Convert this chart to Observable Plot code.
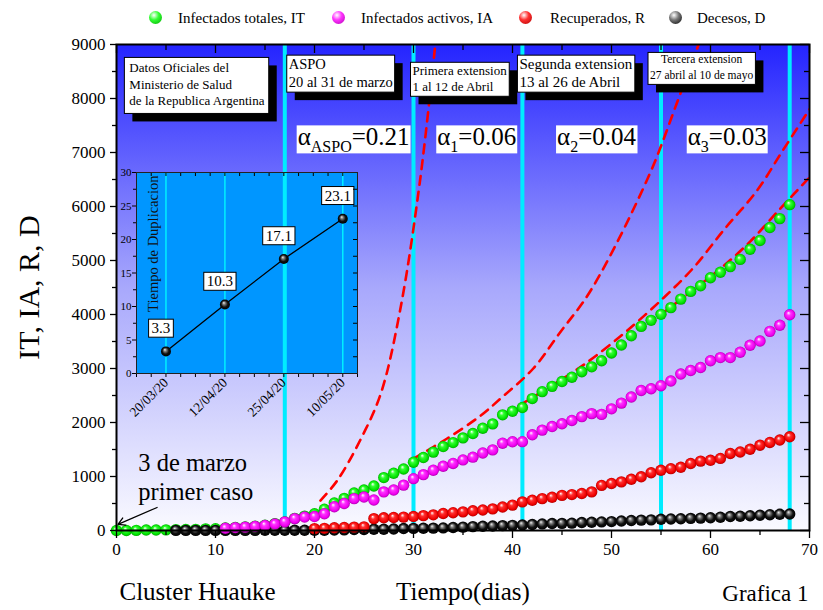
<!DOCTYPE html>
<html><head><meta charset="utf-8">
<script src="https://cdn.jsdelivr.net/npm/d3@7"></script>
<script src="https://cdn.jsdelivr.net/npm/@observablehq/plot@0.6"></script>
<style>
body{margin:0;background:#fff;font-family:"Liberation Serif",serif;}
#legend{position:relative;width:823px;height:36px;}
.lt{position:absolute;top:9px;font-size:15px;line-height:18px;white-space:nowrap;color:#000;}
.lb{position:absolute;top:11px;width:13px;height:13px;border-radius:50%;}
#chart{width:823px;height:574px;}
</style></head><body>
<svg width="0" height="0" style="position:absolute">
<defs>
<linearGradient id="bgGrad" x1="0" y1="0" x2="0" y2="1">
<stop offset="0" stop-color="rgb(36,36,255)"/>
<stop offset="0.5" stop-color="rgb(168,168,252)"/>
<stop offset="1" stop-color="rgb(250,250,255)"/>
</linearGradient>
<radialGradient id="ballGreen" cx="0.5" cy="0.5" r="0.5" fx="0.38" fy="0.32"><stop offset="0" stop-color="#ffffff"/><stop offset="0.35" stop-color="#33ff33"/><stop offset="0.8" stop-color="#00e000"/><stop offset="1" stop-color="#00a800"/></radialGradient>
<radialGradient id="ballMagenta" cx="0.5" cy="0.5" r="0.5" fx="0.38" fy="0.32"><stop offset="0" stop-color="#ffffff"/><stop offset="0.35" stop-color="#ff33ff"/><stop offset="0.8" stop-color="#ee00ee"/><stop offset="1" stop-color="#b000b0"/></radialGradient>
<radialGradient id="ballRed" cx="0.5" cy="0.5" r="0.5" fx="0.38" fy="0.32"><stop offset="0" stop-color="#ffffff"/><stop offset="0.35" stop-color="#ff3030"/><stop offset="0.8" stop-color="#ee0000"/><stop offset="1" stop-color="#b00000"/></radialGradient>
<radialGradient id="ballBlack" cx="0.5" cy="0.5" r="0.5" fx="0.38" fy="0.32"><stop offset="0" stop-color="#f0f0f0"/><stop offset="0.3" stop-color="#777777"/><stop offset="0.65" stop-color="#111111"/><stop offset="1" stop-color="#000000"/></radialGradient>
</defs></svg>
<div id="legend"></div>
<div id="chart"></div>
<script>
// ---------------- data ----------------
const seriesNames = ["Infectados totales, IT", "Infectados activos, IA", "Recuperados, R", "Decesos, D"];
const itStart = 0;
const itValues = [1,1,2,8,9,12,17,19,21,31,34,45,56,65,79,97,128,158,225,266,310,395,510,595,695,750,825,980,1060,1140,1265,1353,1451,1554,1628,1715,1795,1894,1975,2142,2208,2277,2443,2571,2669,2758,2839,2941,3031,3144,3288,3435,3607,3780,3892,4003,4127,4285,4428,4532,4681,4783,4887,5020,5208,5371,5611,5776,6034];
const iaStart = 11;
const iaValues = [43,54,63,77,94,120,160,220,250,258,310,440,500,590,620,565,715,750,840,960,1035,1117,1191,1242,1307,1358,1435,1493,1617,1643,1645,1772,1859,1925,1976,2038,2109,2164,2150,2253,2359,2472,2593,2625,2681,2768,2897,2963,3018,3144,3202,3202,3301,3430,3509,3688,3801,3994];
const rStart = 20;
const rValues = [35,40,50,55,62,68,220,235,240,248,258,275,290,315,330,345,365,380,400,435,470,530,560,590,615,650,665,685,715,835,870,900,950,995,1070,1115,1145,1170,1240,1285,1300,1335,1425,1455,1505,1580,1630,1675,1735];
const dStart = 6;
const dValues = [2,2,2,2,2,2,2,2,2,3,3,3,4,4,4,6,8,12,17,19,23,24,27,36,39,43,44,48,56,63,72,79,82,90,95,102,111,122,129,132,136,147,152,159,165,176,185,192,197,207,214,218,225,229,237,246,260,264,273,282,293,300,305];

// exponential fits: [day, value]
const fitASPO = [[20.6,555],[22.3,926],[24.6,1667],[26.7,2537],[28.7,4130],[30.7,6537],[32.2,9000]];
const fit1 = [[30,1330],[33.4,1704],[36.8,2130],[38.8,2444],[42.1,3000],[44.8,3667],[47.9,4444],[53.7,6537],[56.7,7963],[58.8,9000]];
const fit2 = [[41,2350],[45.9,2907],[48.2,3204],[51.6,3704],[55.3,4315],[58.3,4870],[61.3,5556],[64.7,6296],[67.3,7037],[70,7800]];
const fit3 = [[55,4000],[58,4420],[61,4850],[64,5350],[67,5950],[70,6540]];

const phaseDays = [17, 30, 41, 55, 68];
const xTicks = [0,10,20,30,40,50,60,70];
const yTicks = [0,1000,2000,3000,4000,5000,6000,7000,8000,9000];

const noteTexts = ["Datos Oficiales del\nMinisterio de Salud\nde la Republica Argentina", "ASPO\n20 al 31 de marzo", "Primera extension\n1 al 12 de Abril", "Segunda extension\n13 al 26 de Abril", "Tercera extension\n27 abril al 10 de mayo"];
const notePos = [[1.3,8700],[17.4,8780],[29.9,8640],[40.7,8780],[59.1,8860]];
const noteFont = [13, 14.5, 13, 15, 11.5];
const noteLine = [1.27, 1.24, 1.23, 1.2, 1.39];
const noteAnchor = ["start","start","start","start","middle"];

const alphaSub = ["ASPO","1","2","3"];
const alphaVal = ["0.21","0.06","0.04","0.03"];
const alphaPos = [[18.3,7280],[32.4,7280],[44.5,7280],[57.7,7280]];

const firstCaseText = "3 de marzo\nprimer caso";

const dupDates = ["20/03/20","12/04/20","25/04/20","10/05/20"];
const dupValues = [3.3, 10.3, 17.1, 23.1];

// ---------------- legend ----------------
const legendColors = [["#33ff33","#00a800"],["#ff33ff","#b000b0"],["#ff3030","#b00000"],["#777","#000"]];
const legendBallX = [155, 338, 525, 675];
const legendTextX = [178, 361, 550, 697];
const leg = document.getElementById("legend");
seriesNames.forEach((name, i) => {
  const b = document.createElement("div");
  b.className = "lb";
  b.style.left = (legendBallX[i] - 6.5) + "px";
  b.style.background = `radial-gradient(circle at 38% 32%, #fff 0%, ${legendColors[i][0]} 40%, ${legendColors[i][1]} 100%)`;
  leg.appendChild(b);
  const t = document.createElement("div");
  t.className = "lt";
  t.style.left = legendTextX[i] + "px";
  t.textContent = name;
  leg.appendChild(t);
});

// ---------------- main chart ----------------
const W = 823, H = 574, mL = 116, mR = 14, mT = 8, mB = 80;
const plotW = W - mL - mR, plotH = H - mT - mB;
const toRows = (start, vals) => vals.map((v, i) => ({day: start + i, v}));
const itData = toRows(itStart, itValues);
const iaData = toRows(iaStart, iaValues);
const rData = toRows(rStart, rValues);
const dData = toRows(dStart, dValues);
const serif = '"Liberation Serif", "Times New Roman", serif';
const dash = {x: d => d[0], y: d => d[1], curve: "catmull-rom", stroke: "#ff0000", strokeWidth: 2.6, strokeDasharray: "9,7", clip: true};
const R = 5.7;
const plain = d => String(d);

const main = Plot.plot({
  width: W, height: H, marginLeft: mL, marginRight: mR, marginTop: mT, marginBottom: mB,
  style: {fontFamily: serif, fontSize: "17px", background: "transparent", color: "black", overflow: "visible"},
  x: {domain: [0, 70]},
  y: {domain: [0, 9000]},
  marks: [
    Plot.frame({fill: "url(#bgGrad)"}),
    Plot.ruleX(phaseDays, {stroke: "#00ecff", strokeWidth: 4, ariaDescription: "phase-rules"}),
    Plot.line(fitASPO, dash),
    Plot.line(fit1, dash),
    Plot.line(fit2, dash),
    Plot.line(fit3, dash),
    Plot.dot(itData, {x: "day", y: "v", r: R, fill: "url(#ballGreen)"}),
    Plot.dot(dData, {x: "day", y: "v", r: R, fill: "url(#ballBlack)"}),
    Plot.dot(iaData, {x: "day", y: "v", r: R, fill: "url(#ballMagenta)"}),
    Plot.dot(rData, {x: "day", y: "v", r: R, fill: "url(#ballRed)"}),
    Plot.arrow([{x1: 4.1, y1: 426, x2: 0.15, y2: 115}], {x1: "x1", y1: "y1", x2: "x2", y2: "y2", stroke: "black", strokeWidth: 1.3, headLength: 9}),
    Plot.text([firstCaseText], {x: () => 2.2, y: () => 1490, text: d => d, textAnchor: "start", lineAnchor: "top", fontSize: 24.5, lineHeight: 1.2, fill: "black"}),
    ...noteTexts.map((t, i) => Plot.text([t], {x: () => notePos[i][0], y: () => notePos[i][1], text: d => d, textAnchor: noteAnchor[i], lineAnchor: "top", fontSize: noteFont[i], lineHeight: noteLine[i], fill: "black", ariaDescription: "note"})),
    Plot.text(alphaSub, {x: (d, i) => alphaPos[i][0], y: (d, i) => alphaPos[i][1], text: (d, i) => `α${d}=${alphaVal[i]}`, textAnchor: "start", fontSize: 25, fill: "black", ariaDescription: "alpha"}),
    Plot.axisX(xTicks, {tickSize: 8, tickPadding: 4, fontSize: 17, tickFormat: plain, label: null, strokeWidth: 1.3}),
    Plot.axisX(d3.range(5, 70, 10), {tickSize: 5, tickFormat: () => "", label: null, strokeWidth: 1.3}),
    Plot.axisY(yTicks, {tickSize: 6, tickPadding: 5, fontSize: 17, tickFormat: plain, label: null, strokeWidth: 1.3}),
    Plot.axisY(d3.range(500, 9000, 1000), {tickSize: 4, tickFormat: () => "", label: null, strokeWidth: 1.3}),
    Plot.tickX(xTicks, {x: d => d, insetBottom: plotH - 9, stroke: "black", strokeWidth: 1.3}),
    Plot.tickX(d3.range(5, 70, 10), {x: d => d, insetBottom: plotH - 6, stroke: "black", strokeWidth: 1.3}),
    Plot.tickY(yTicks, {y: d => d, insetLeft: plotW - 9, stroke: "black", strokeWidth: 1.3}),
    Plot.tickY(d3.range(500, 9000, 1000), {y: d => d, insetLeft: plotW - 5, stroke: "black", strokeWidth: 1.3}),
    Plot.frame({stroke: "black", strokeWidth: 2}),
    Plot.text(["IT, IA, R, D"], {frameAnchor: "left", textAnchor: "middle", rotate: -90, dx: -87, fontSize: 30, fill: "black"}),
    Plot.text(["Cluster Huauke"], {frameAnchor: "bottom-left", textAnchor: "start", lineAnchor: "top", dx: 3, dy: 52, fontSize: 25, fill: "black"}),
    Plot.text(["Tiempo(dias)"], {frameAnchor: "bottom", lineAnchor: "top", dy: 52, fontSize: 25, fill: "black"}),
    Plot.text(["Grafica 1"], {frameAnchor: "bottom-right", textAnchor: "end", lineAnchor: "top", dx: -1, dy: 54, fontSize: 23, fill: "black"})
  ]
});
document.getElementById("chart").appendChild(main);

// ---------------- inset chart ----------------
const iW = 261, iH = 261, iL = 30, iR = 10, iT = 10, iB = 50;
const iPlotW = iW - iL - iR, iPlotH = iH - iT - iB;
const dupData = dupValues.map((v, i) => ({i, v}));
const quarters = d3.range(-0.5, 3.26, 0.25).filter(v => Math.abs(v - Math.round(v)) > 1e-6);
const inset = Plot.plot({
  width: iW, height: iH, marginLeft: iL, marginRight: iR, marginTop: iT, marginBottom: iB,
  style: {fontFamily: serif, fontSize: "11px", background: "transparent", color: "black"},
  x: {domain: [-0.5, 3.25]},
  y: {domain: [0, 30]},
  marks: [
    Plot.frame({fill: "#0096ff"}),
    Plot.ruleX([0, 1, 2, 3], {stroke: "#00f0ff", strokeWidth: 1.5}),
    Plot.line(dupData, {x: "i", y: "v", stroke: "black", strokeWidth: 1.3, ariaDescription: "inset-split"}),
    Plot.dot(dupData, {x: "i", y: "v", r: 5, fill: "url(#ballBlack)"}),
    Plot.text(dupData, {x: "i", y: "v", text: d => d.v.toFixed(1), dx: -5, dy: -23, fontSize: 15, fill: "black", ariaDescription: "duplabel"}),
    Plot.text(["Tiempo de Duplicacion"], {frameAnchor: "top-left", rotate: -90, textAnchor: "end", dx: 11, dy: 3, fontSize: 14.5, fill: "#111"}),
    Plot.axisX([0, 1, 2, 3], {tickFormat: i => dupDates[i], tickRotate: -45, tickSize: 4, tickPadding: 3, fontSize: 13.5, label: null}),
    Plot.axisX(quarters, {tickFormat: () => "", tickSize: 4, label: null}),
    Plot.axisY(d3.range(0, 31, 5), {tickSize: 4, tickPadding: 1, fontSize: 11, label: null}),
    Plot.axisY(d3.range(2.5, 30, 5), {tickSize: 3, tickFormat: () => "", label: null}),
    Plot.tickX(quarters.concat([0, 1, 2, 3]), {x: d => d, insetBottom: iPlotH - 4, stroke: "black"}),
    Plot.tickY(d3.range(0, 30.1, 2.5), {y: d => d, insetLeft: iPlotW - 4, stroke: "black"}),
    Plot.frame({stroke: "#222", strokeWidth: 1})
  ]
});

const NS = "http://www.w3.org/2000/svg";
// nest the inset inside the main chart: background part below the phase lines, the rest above them
const makeInsetGroup = () => {
  const g = document.createElementNS(NS, "g");
  g.setAttribute("transform", `translate(${136 - iL},${(172 - 36) - iT})`);
  for (const a of Array.from(inset.attributes)) {
    if (["width", "height", "viewBox"].includes(a.name) || a.name.startsWith("xmlns")) continue;
    g.setAttribute(a.name, a.value);
  }
  return g;
};
const insetBack = makeInsetGroup(), insetFront = makeInsetGroup();
let passedSplit = false;
for (const child of Array.from(inset.childNodes)) {
  if (passedSplit) insetFront.appendChild(child); else insetBack.appendChild(child);
  if (child.getAttribute && child.getAttribute("aria-description") === "inset-split") passedSplit = true;
}
const phaseG = main.querySelector('g[aria-description="phase-rules"]');
main.insertBefore(insetBack, phaseG);
main.insertBefore(insetFront, phaseG.nextSibling);

// alpha labels with subscripts
const alphaG = main.querySelector('g[aria-description="alpha"]');
Array.from(alphaG.querySelectorAll("text")).forEach((t, i) => {
  t.textContent = "";
  const a = document.createElementNS(NS, "tspan"); a.textContent = "α"; t.appendChild(a);
  const s = document.createElementNS(NS, "tspan"); s.textContent = alphaSub[i]; s.setAttribute("font-size", "16"); s.setAttribute("dy", "7"); t.appendChild(s);
  const v = document.createElementNS(NS, "tspan"); v.textContent = "=" + alphaVal[i]; v.setAttribute("dy", "-7"); t.appendChild(v);
});

function boxify(groups, {pad = [3, 2, 3, 2], fill = "white", stroke = "black", strokeWidth = 1, shadow = 0}) {
  for (const g of groups) {
    for (const t of Array.from(g.querySelectorAll("text"))) {
      const b = t.getBBox();
      const tr = t.getAttribute("transform");
      const mk = (off, f, s) => {
        const r = document.createElementNS(NS, "rect");
        r.setAttribute("x", b.x - pad[0] + off);
        r.setAttribute("y", b.y - pad[1] + off);
        r.setAttribute("width", b.width + pad[0] + pad[2]);
        r.setAttribute("height", b.height + pad[1] + pad[3]);
        r.setAttribute("fill", f);
        r.setAttribute("stroke", s);
        r.setAttribute("stroke-width", strokeWidth);
        if (tr) r.setAttribute("transform", tr);
        g.insertBefore(r, t);
      };
      if (shadow) mk(shadow, "black", "none");
      mk(0, fill, stroke);
    }
  }
}
const noteGroups = Array.from(main.querySelectorAll('g[aria-description="note"]'));
boxify([noteGroups[0]], {pad: [5, 3, 4, 5], shadow: 8});
boxify(noteGroups.slice(1), {pad: [2, 1, 2, 2], shadow: 8});
boxify([alphaG], {pad: [1, -2, 1, -2], stroke: "none"});
boxify(Array.from(main.querySelectorAll('g[aria-description="duplabel"]')), {pad: [3, 1, 3, 1]});
</script>
</body></html>
